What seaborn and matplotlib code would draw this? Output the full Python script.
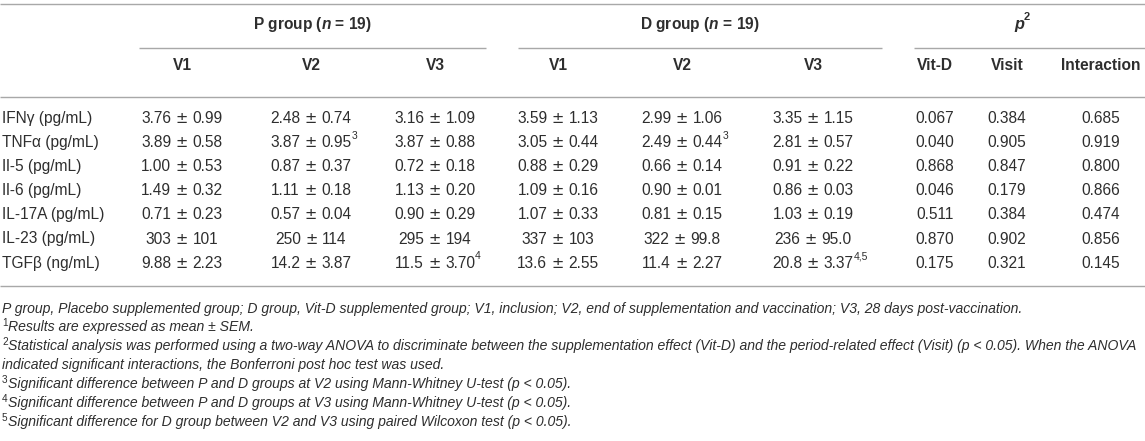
import matplotlib
matplotlib.use("Agg")
import matplotlib.pyplot as plt
import seaborn as sns
import pandas as pd

sns.set_theme(style="white")
plt.rcParams["font.family"] = ["Liberation Sans", "DejaVu Sans"]
plt.rcParams["mathtext.fontset"] = "custom"
plt.rcParams["mathtext.rm"] = "Liberation Sans"
plt.rcParams["mathtext.it"] = "Liberation Sans:italic"
plt.rcParams["mathtext.bf"] = "Liberation Sans:bold"
plt.rcParams["mathtext.bfit"] = "Liberation Sans:italic:bold"

# ---- table data ----
cytokines = ["IFNγ (pg/mL)", "TNFα (pg/mL)", "Il-5 (pg/mL)", "Il-6 (pg/mL)",
             "IL-17A (pg/mL)", "IL-23 (pg/mL)", "TGFβ (ng/mL)"]
visits = ["V1", "V2", "V3"]
p_stats = ["Vit-D", "Visit", "Interaction"]

p_v1 = ["3.76 ± 0.99", "3.89 ± 0.58", "1.00 ± 0.53", "1.49 ± 0.32", "0.71 ± 0.23", "303 ± 101", "9.88 ± 2.23"]
p_v2 = ["2.48 ± 0.74", "3.87 ± 0.95", "0.87 ± 0.37", "1.11 ± 0.18", "0.57 ± 0.04", "250 ± 114", "14.2 ± 3.87"]
p_v3 = ["3.16 ± 1.09", "3.87 ± 0.88", "0.72 ± 0.18", "1.13 ± 0.20", "0.90 ± 0.29", "295 ± 194", "11.5 ± 3.70"]
d_v1 = ["3.59 ± 1.13", "3.05 ± 0.44", "0.88 ± 0.29", "1.09 ± 0.16", "1.07 ± 0.33", "337 ± 103", "13.6 ± 2.55"]
d_v2 = ["2.99 ± 1.06", "2.49 ± 0.44", "0.66 ± 0.14", "0.90 ± 0.01", "0.81 ± 0.15", "322 ± 99.8", "11.4 ± 2.27"]
d_v3 = ["3.35 ± 1.15", "2.81 ± 0.57", "0.91 ± 0.22", "0.86 ± 0.03", "1.03 ± 0.19", "236 ± 95.0", "20.8 ± 3.37"]
p_vitd = ["0.067", "0.040", "0.868", "0.046", "0.511", "0.870", "0.175"]
p_visit = ["0.384", "0.905", "0.847", "0.179", "0.384", "0.902", "0.321"]
p_inter = ["0.685", "0.919", "0.800", "0.866", "0.474", "0.856", "0.145"]

# superscript marks: (column, row, mark)
marks = [("P V2", 1, "3"), ("D V2", 1, "3"), ("P V3", 6, "4"), ("D V3", 6, "4,5")]

footnotes = [
    ("", "P group, Placebo supplemented group; D group, Vit-D supplemented group; V1, inclusion; V2, end of supplementation and vaccination; V3, 28 days post-vaccination."),
    ("1", "Results are expressed as mean ± SEM."),
    ("2", "Statistical analysis was performed using a two-way ANOVA to discriminate between the supplementation effect (Vit-D) and the period-related effect (Visit) (p < 0.05). When the ANOVA"),
    ("", "indicated significant interactions, the Bonferroni post hoc test was used."),
    ("3", "Significant difference between P and D groups at V2 using Mann-Whitney U-test (p < 0.05)."),
    ("4", "Significant difference between P and D groups at V3 using Mann-Whitney U-test (p < 0.05)."),
    ("5", "Significant difference for D group between V2 and V3 using paired Wilcoxon test (p < 0.05)."),
]

df = pd.DataFrame({"P V1": p_v1, "P V2": p_v2, "P V3": p_v3,
                   "D V1": d_v1, "D V2": d_v2, "D V3": d_v3,
                   "Vit-D": p_vitd, "Visit": p_visit, "Interaction": p_inter},
                  index=cytokines)

# ---- layout (pixels) ----
col_x = {"P V1": 182, "P V2": 311, "P V3": 435,
         "D V1": 558, "D V2": 682, "D V3": 813,
         "Vit-D": 935, "Visit": 1007, "Interaction": 1101}
groups = [(r"P group ($\mathbfit{n}$ = 19)", 139, 486),
          (r"D group ($\mathbfit{n}$ = 19)", 518, 882)]
y_top, y_group, y_uline, y_sub, y_head = 4, 24, 48, 66, 97
y_row0, row_h = 118.5, 24.1
y_bottom = 286
y_fn0, fn_h = 308.5, 18.9

txt = "#2e2e2e"
rule = "#a8a8a8"
fs = 11.2
fs_fn = 10.1

fig = plt.figure(figsize=(11.45, 4.41), dpi=100)
ax = fig.add_axes([0, 0, 1, 1])
ax.set_xlim(0, 1145)
ax.set_ylim(441, 0)
ax.axis("off")
renderer = fig.canvas.get_renderer()

# rules
for y in (y_top, y_head, y_bottom):
    ax.hlines(y, 0, 1145, color=rule, lw=1.0)
for label, x0, x1 in groups:
    ax.hlines(y_uline, x0, x1, color=rule, lw=1.0)
    ax.text((x0 + x1) / 2, y_group, label, ha="center", va="center",
            fontsize=fs, fontweight="bold", color=txt)
ax.hlines(y_uline, 914, 1145, color=rule, lw=1.0)
pt = ax.text(1019, y_group, "p", ha="center", va="center", fontsize=fs + 0.5,
             fontweight="bold", fontstyle="italic", color=txt)
ax.annotate("2", xy=(1, 0.62), xycoords=pt, ha="left", va="bottom",
            fontsize=8, fontweight="bold", color=txt)

# sub headers
sub_labels = visits + visits + p_stats
for col, lab in zip(df.columns, sub_labels):
    ax.text(col_x[col], y_sub, lab, ha="center", va="center",
            fontsize=fs, fontweight="bold", color=txt)


def draw_value(cx, y, s):
    # mean and SEM in Liberation Sans, the wider ± sign from DejaVu Sans
    if " ± " not in s:
        return ax.text(cx, y, s, ha="center", va="center", fontsize=fs, color=txt)
    mean, sem = s.split(" ± ")
    parts = [ax.text(0, y, mean, ha="left", va="center", fontsize=fs, color=txt),
             ax.text(0, y, "±", ha="left", va="center", fontsize=fs - 0.6, color=txt,
                     family="DejaVu Sans"),
             ax.text(0, y, sem, ha="left", va="center", fontsize=fs, color=txt)]
    widths = [p.get_window_extent(renderer).width for p in parts]
    gap = 4.4
    x = cx - (sum(widths) + 2 * gap) / 2
    for p, w in zip(parts, widths):
        p.set_x(x)
        x += w + gap
    return parts[-1]


# body
cells = {}
for i, name in enumerate(df.index):
    y = y_row0 + i * row_h
    ax.text(2, y, name, ha="left", va="center", fontsize=fs, color=txt)
    for col in df.columns:
        cells[(col, i)] = draw_value(col_x[col], y, df.loc[name, col])
for col, i, m in marks:
    ax.annotate(m, xy=(1, 0.62), xycoords=cells[(col, i)], ha="left", va="bottom",
                fontsize=7.5, color=txt)

# footnotes
for k, (sup, line) in enumerate(footnotes):
    y = y_fn0 + k * fn_h
    if sup:
        st = ax.text(2, y - 4, sup, ha="left", va="center", fontsize=7.2, color=txt)
        ax.annotate(line, xy=(1, 0.5), xycoords=st, xytext=(0.3, -4 * 0.72),
                    textcoords="offset points", ha="left", va="center",
                    fontsize=fs_fn, fontstyle="italic", color=txt)
    else:
        ax.text(2, y, line, ha="left", va="center", fontsize=fs_fn,
                fontstyle="italic", color=txt)

fig.savefig("out.png", dpi=100)
